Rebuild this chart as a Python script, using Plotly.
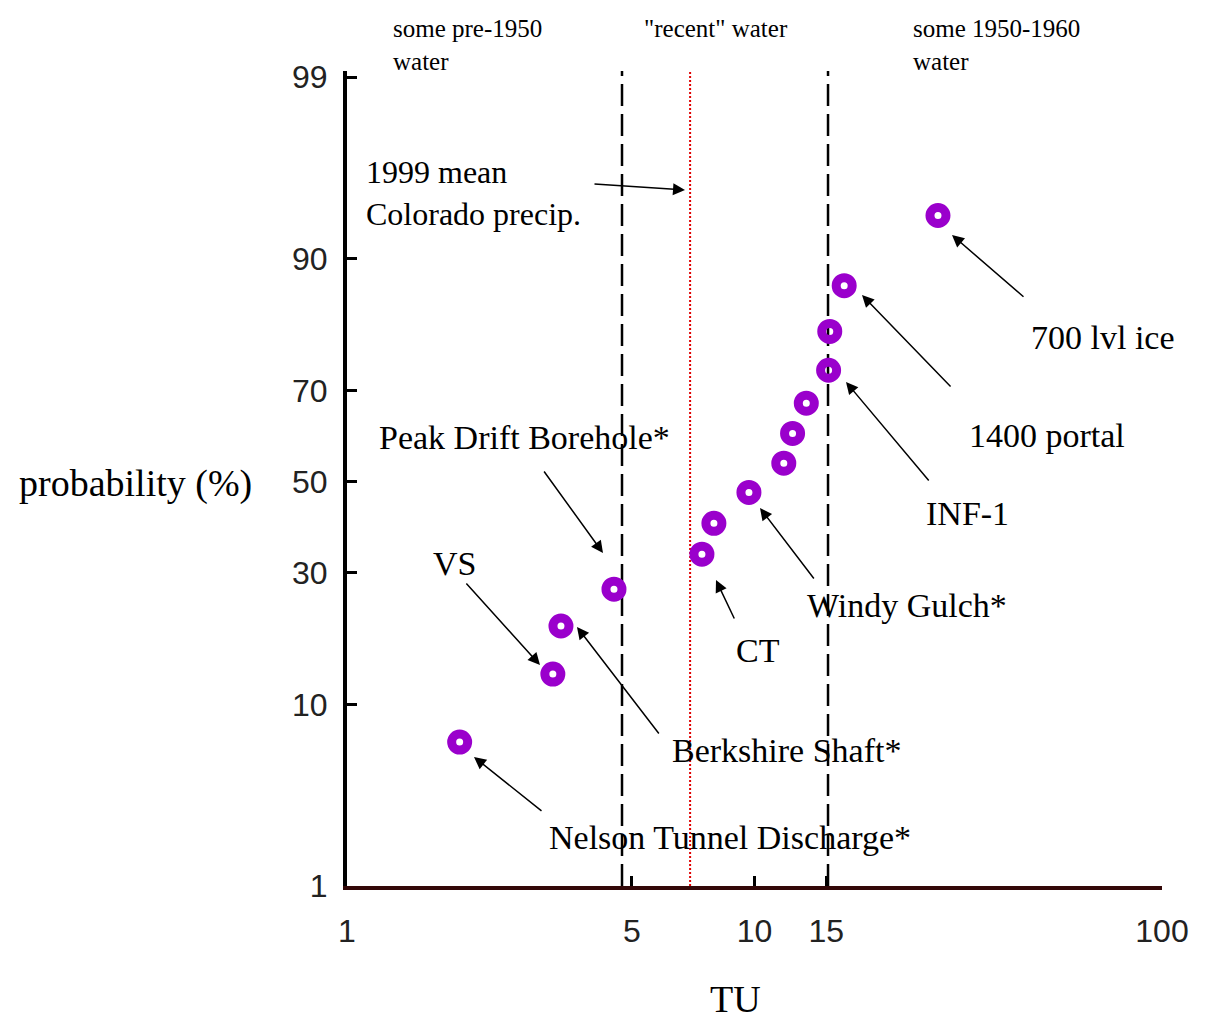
import plotly.graph_objects as go
from statistics import NormalDist

# ---------------- data ----------------
tu_values = [1.89, 3.20, 3.35, 4.52, 7.43, 7.95, 9.69, 11.8, 12.4, 13.4, 15.2, 15.3, 16.6, 28.2]
probability_pct = [6.7, 13.4, 20.3, 26.8, 33.8, 40.5, 47.5, 54.2, 60.9, 67.4, 73.9, 80.6, 87.0, 93.7]

y_tick_pct = [1, 10, 30, 50, 70, 90, 99]
y_tick_text = ["1", "10", "30", "50", "70", "90", "99"]
x_tick_vals = [1, 5, 10, 15, 100]
x_tick_text = ["1", "5", "10", "15", "100"]

boundary_tu = [4.73, 15.15]      # dashed age-boundary lines
precip_tu = 6.95                 # 1999 mean Colorado precipitation (red dotted)

nd = NormalDist()
def z(p):
    return nd.inv_cdf(p / 100.0)

y_lo = z(1)
y_hi = z(99) + 0.035

# ---------------- figure ----------------
fig = go.Figure()

for b in boundary_tu:
    fig.add_trace(go.Scatter(x=[b, b], y=[y_lo, y_hi], mode="lines",
                             line=dict(color="black", width=2.5, dash="22px,8px"),
                             showlegend=False, hoverinfo="skip"))
fig.add_trace(go.Scatter(x=[precip_tu, precip_tu], y=[y_lo, y_hi], mode="lines",
                         line=dict(color="#e00000", width=2, dash="2px,2px"),
                         showlegend=False, hoverinfo="skip"))

fig.add_trace(go.Scatter(x=tu_values, y=[z(p) for p in probability_pct], mode="markers",
                         marker=dict(symbol="circle-open", size=16, color="#9a00cc",
                                     line=dict(width=9, color="#9a00cc")),
                         showlegend=False))

# page has an 8px body margin; figure is offset by it
OFF = 8
FIG_W, FIG_H = 1205 - OFF, 1022 - OFF
# plot area in screen pixels
L, R, T, B = 347, 1162, 71, 886
W, H = R - L, B - T

def px(xp):
    return (xp - L) / W

def py(yp):
    return (B - yp) / H

serif = "Liberation Serif, Times New Roman, serif"

labels = [
    ("Peak Drift Borehole*", 377, 438, 34),
    ("VS", 431, 563, 34),
    ("Berkshire Shaft*", 670, 750, 34),
    ("Nelson Tunnel Discharge*", 547, 837, 34),
    ("CT", 734, 650, 34),
    ("Windy Gulch*", 805, 605, 34),
    ("INF-1", 924, 513, 34),
    ("1400 portal", 967, 435, 34),
    ("700 lvl ice", 1029, 337, 34),
]
annotations = []
for txt, x0, y0, s in labels:
    annotations.append(dict(text=txt, x=px(x0), y=py(y0), xref="paper", yref="paper",
                            xanchor="left", yanchor="middle", showarrow=False,
                            font=dict(family=serif, size=s, color="black")))

notes = [
    ("some pre-1950<br>water", 391, 13, 25),
    ("\"recent\" water", 642, 13, 25),
    ("some 1950-1960<br>water", 911, 13, 25),
    ("1999 mean<br>Colorado precip.", 364, 152, 32),
]
for txt, x0, y0, s in notes:
    annotations.append(dict(text=txt, x=px(x0), y=py(y0), xref="paper", yref="paper",
                            xanchor="left", yanchor="top", align="left", showarrow=False,
                            font=dict(family=serif, size=s, color="black")))

arrows = [
    (685, 190, 593, 184),
    (603, 553, 543, 470),
    (540, 665, 465, 582),
    (577, 627, 660, 735),
    (474, 757, 543, 812),
    (716, 580, 735, 620),
    (760, 508, 815, 580),
    (846, 382, 930, 482),
    (862, 295, 952, 388),
    (952, 235, 1025, 298),
]
for tx, ty, sx, sy in arrows:
    annotations.append(dict(text="", x=px(tx), y=py(ty), xref="paper", yref="paper",
                            ax=sx - tx, ay=sy - ty, showarrow=True,
                            arrowhead=2, arrowsize=1.6, arrowwidth=1.5, arrowcolor="black"))

annotations.append(dict(text="probability (%)", x=px(254), y=py(484), xref="paper", yref="paper",
                        xanchor="right", yanchor="middle", showarrow=False,
                        font=dict(family=serif, size=38, color="black")))
annotations.append(dict(text="TU", x=px(735), y=py(999), xref="paper", yref="paper",
                        xanchor="center", yanchor="middle", showarrow=False,
                        font=dict(family=serif, size=38, color="black")))

tickfont = dict(family="Liberation Sans, Arial, sans-serif", size=32, color="#222222")

fig.update_layout(
    width=FIG_W, height=FIG_H,
    margin=dict(l=L - OFF, r=FIG_W - (R - OFF), t=T - OFF, b=FIG_H - (B - OFF)),
    paper_bgcolor="white", plot_bgcolor="white",
    annotations=annotations,
    xaxis=dict(type="log", range=[0, 2], tickvals=x_tick_vals, ticktext=x_tick_text,
               showgrid=False, zeroline=False, showline=True, linecolor="#330808", linewidth=4,
               ticks="inside", ticklen=10, tickwidth=3, tickcolor="black",
               tickfont=tickfont, ticklabelstandoff=14),
    yaxis=dict(range=[y_lo, y_hi], tickvals=[z(p) for p in y_tick_pct], ticktext=y_tick_text,
               showgrid=False, zeroline=False, showline=True, linecolor="black", linewidth=4,
               ticks="inside", ticklen=10, tickwidth=3, tickcolor="black",
               tickfont=tickfont, ticklabelstandoff=9),
)

fig.write_html("out.html")
